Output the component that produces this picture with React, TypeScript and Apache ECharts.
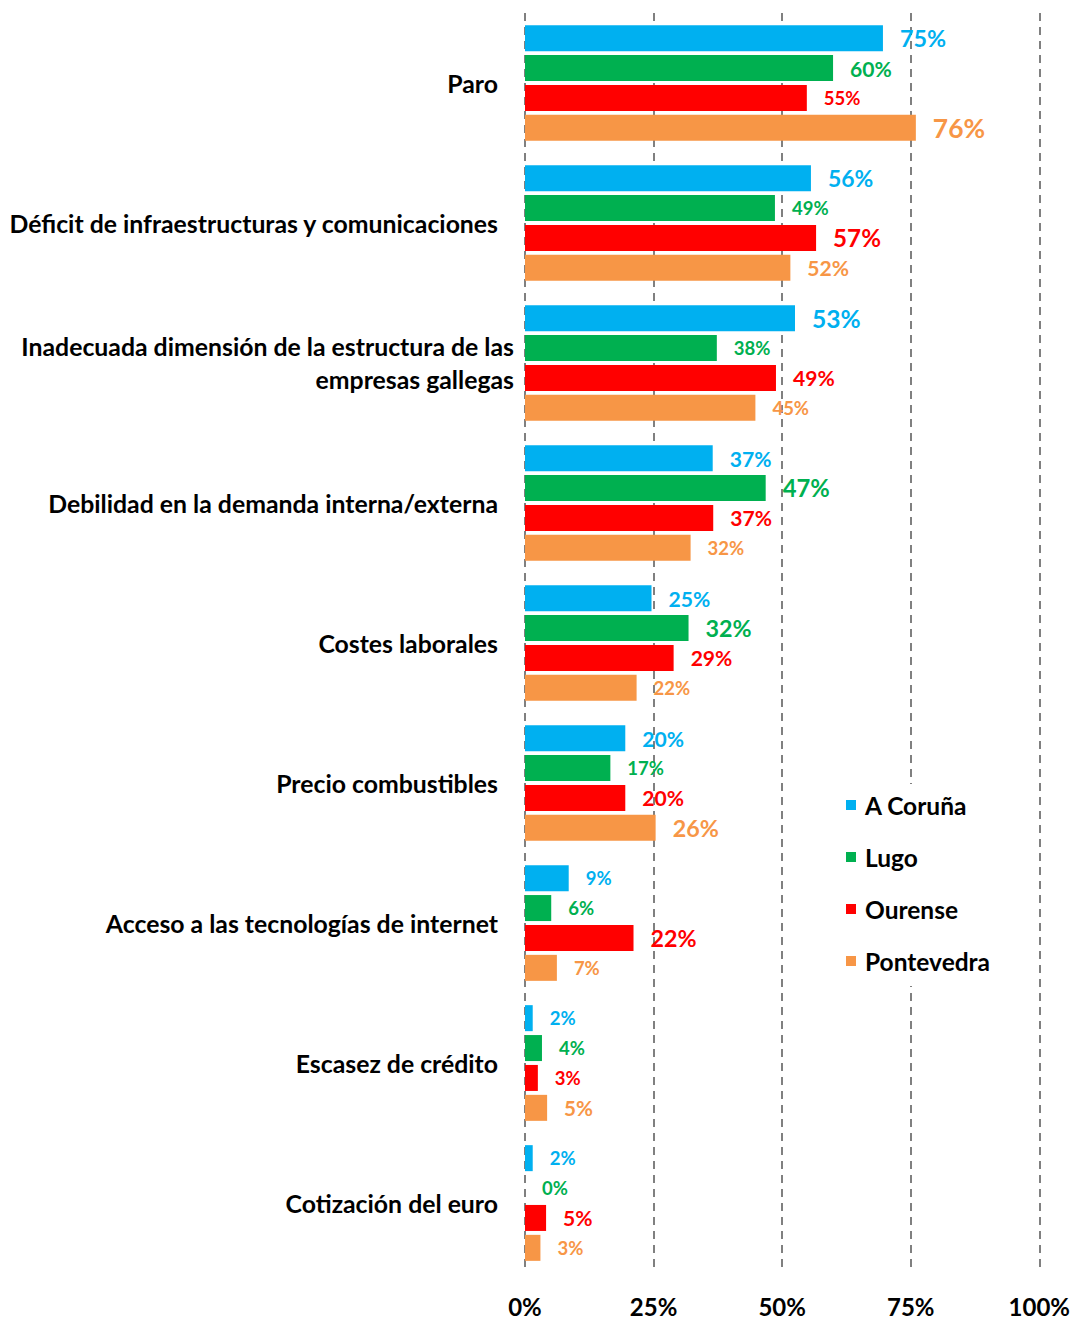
import React, { useEffect, useRef } from "react";
import * as echarts from "echarts";

const categories = [
  "Paro",
  "Déficit de infraestructuras y comunicaciones",
  "Inadecuada dimensión de la estructura de las\nempresas gallegas",
  "Debilidad en la demanda interna/externa",
  "Costes laborales",
  "Precio combustibles",
  "Acceso a las tecnologías de internet",
  "Escasez de crédito",
  "Cotización del euro",
];

const seriesNames = ["A Coruña", "Lugo", "Ourense", "Pontevedra"];

// bar lengths (percent)
const coruna = [69.6, 55.6, 52.5, 36.5, 24.6, 19.5, 8.5, 1.5, 1.5];
const lugo = [59.9, 48.6, 37.3, 46.8, 31.8, 16.6, 5.1, 3.3, 0];
const ourense = [54.8, 56.6, 48.8, 36.6, 28.9, 19.5, 21.1, 2.5, 4.1];
const pontevedra = [76.0, 51.6, 44.8, 32.2, 21.7, 25.4, 6.2, 4.3, 3.0];

// data labels as printed in the picture
const coruñaLabels = [75, 56, 53, 37, 25, 20, 9, 2, 2];
const lugoLabels = [60, 49, 38, 47, 32, 17, 6, 4, 0];
const ourenseLabels = [55, 57, 49, 37, 29, 20, 22, 3, 5];
const pontevedraLabels = [76, 52, 45, 32, 22, 26, 7, 5, 3];

const xTicks = [0, 25, 50, 75, 100];

// label font sizes (style, not data)
const labelSizes = [
  [26.5, 26, 28, 24, 24, 24, 21, 21, 21],
  [24, 21, 21, 27, 26.5, 21, 21, 21, 21],
  [21, 27.5, 24, 24, 24, 24, 26.5, 21, 24],
  [30, 24, 21, 21, 21, 26.5, 21, 23.5, 21],
];

const colors = ["#00B0F0", "#00B050", "#FF0000", "#F79646"];
const FONT = "Lato";
const K = 0.88;
const CAT_SIZE = 24.8;

export default function App() {
  const ref = useRef<HTMLDivElement>(null);
  useEffect(() => {
    document.body.style.margin = "0";
    const chart = echarts.init(ref.current!, null, { renderer: "svg" });
    const values = [coruna, lugo, ourense, pontevedra];
    const labels = [coruñaLabels, lugoLabels, ourenseLabels, pontevedraLabels];
    const series = seriesNames.map((name, si) => ({
      name,
      type: "bar",
      barWidth: 26,
      barGap: "15%",
      itemStyle: { color: colors[si] },
      data: values[si].map((v, i) => ({
        value: v,
        label: { fontSize: Math.round(labelSizes[si][i] * K * 10) / 10 },
      })),
      label: {
        show: true,
        position: "right",
        distance: 17,
        color: colors[si],
        fontWeight: "bold",
        fontFamily: FONT,
        formatter: (p: any) => labels[si][p.dataIndex] + "%",
      },
    }));
    chart.setOption({
      animation: false,
      backgroundColor: "#fff",
      textStyle: { fontFamily: FONT },
      grid: { left: 525, right: 33, top: 13, bottom: 46, containLabel: false },
      legend: {
        data: seriesNames,
        orient: "vertical",
        left: 836,
        top: 784,
        icon: "rect",
        itemWidth: 10,
        itemHeight: 10,
        itemGap: 26,
        backgroundColor: "#fff",
        padding: [8, 12, 12, 10],
        textStyle: {
          fontFamily: FONT,
          fontWeight: "bold",
          fontSize: 24.5,
          lineHeight: 26,
          color: "#000",
          padding: [0, 0, 0, 4],
        },
      },
      xAxis: {
        type: "value",
        min: xTicks[0],
        max: xTicks[xTicks.length - 1],
        interval: 25,
        axisLine: { show: false },
        axisTick: { show: false },
        axisLabel: {
          formatter: "{value}%",
          fontFamily: FONT,
          fontWeight: "bold",
          fontSize: 24,
          color: "#000",
          margin: 21,
        },
        splitLine: {
          show: true,
          showMinLine: true,
          showMaxLine: true,
          lineStyle: { color: "#808080", width: 2, type: [8, 6] },
        },
      },
      yAxis: {
        type: "category",
        inverse: true,
        data: categories,
        axisLine: { show: false },
        axisTick: { show: false },
        axisLabel: {
          margin: 11,
          color: "#000",
          fontFamily: FONT,
          fontWeight: "bold",
          fontSize: CAT_SIZE,
          formatter: (v: string) => {
            if (v.indexOf("\n") >= 0) {
              return v
                .split("\n")
                .map((l) => "{w|" + l + "}")
                .join("\n");
            }
            return "{s|" + v + "}";
          },
          rich: {
            s: {
              fontFamily: FONT,
              fontWeight: "bold",
              fontSize: CAT_SIZE,
              color: "#000",
              padding: [0, 16, 0, 0],
            },
            w: {
              fontFamily: FONT,
              fontWeight: "bold",
              fontSize: CAT_SIZE,
              color: "#000",
              lineHeight: 33,
            },
          },
        },
      },
      series,
    });
    return () => chart.dispose();
  }, []);
  return <div ref={ref} style={{ width: 1073, height: 1319 }} />;
}
